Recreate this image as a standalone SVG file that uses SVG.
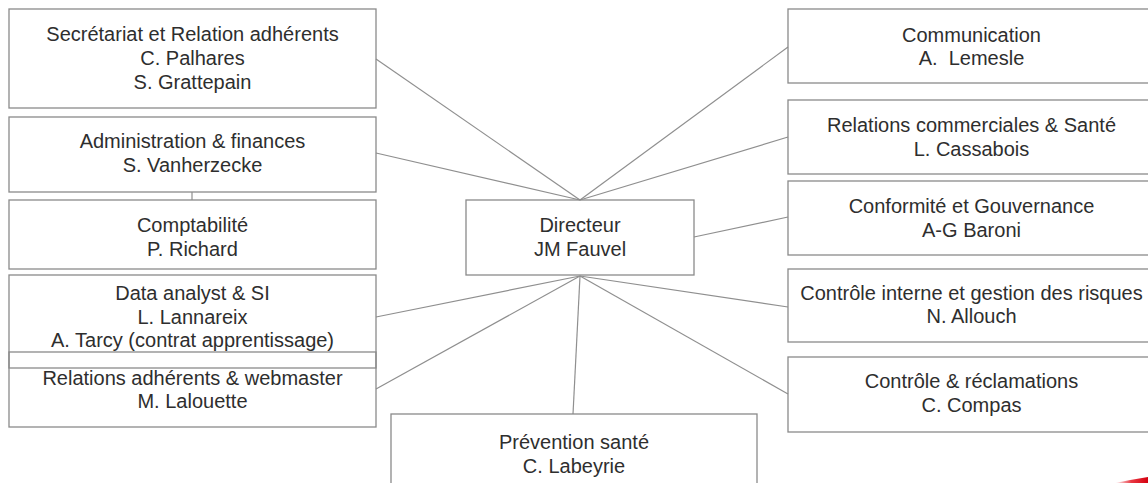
<svg xmlns="http://www.w3.org/2000/svg" width="1148" height="483" viewBox="0 0 1148 483">
  <style>
    .box { fill: none; stroke: #8a8a8a; stroke-width: 1.3; }
    .lbl { font-family: "Liberation Sans", Arial, sans-serif; font-size: 20px; fill: #2e2e2e; text-anchor: middle; }
    .link { stroke: #8f8f8f; stroke-width: 1.2; fill: none; }
  </style>
  <defs>
    <linearGradient id="swoosh" x1="0" y1="0" x2="1" y2="0">
      <stop offset="0" stop-color="#e30613" stop-opacity="0"/>
      <stop offset="0.5" stop-color="#e30613" stop-opacity="0.8"/>
      <stop offset="1" stop-color="#d4000f"/>
    </linearGradient>
  </defs>
  <rect width="1148" height="483" fill="#ffffff"/>

  <!-- connectors -->
  <g id="connectors">
    <line class="link" x1="580" y1="200" x2="376" y2="59"/>
    <line class="link" x1="580" y1="200" x2="376" y2="153"/>
    <line class="link" x1="580" y1="200" x2="788" y2="47"/>
    <line class="link" x1="580" y1="200" x2="788" y2="137"/>
    <line class="link" x1="694" y1="237" x2="788" y2="217"/>
    <line class="link" x1="192" y1="192" x2="192" y2="200"/>
    <line class="link" x1="580" y1="276" x2="376" y2="317"/>
    <line class="link" x1="580" y1="276" x2="376" y2="389"/>
    <line class="link" x1="580" y1="276" x2="573" y2="414"/>
    <line class="link" x1="580" y1="276" x2="788" y2="307"/>
    <line class="link" x1="580" y1="276" x2="788" y2="394"/>
  </g>

  <!-- left column -->
  <g id="secretariat">
    <rect class="box" x="9" y="9" width="367" height="99"/>
    <text class="lbl" x="192.5" y="41">Secrétariat et Relation adhérents</text>
    <text class="lbl" x="192.5" y="65">C. Palhares</text>
    <text class="lbl" x="192.5" y="89">S. Grattepain</text>
  </g>
  <g id="administration">
    <rect class="box" x="9" y="117" width="367" height="75"/>
    <text class="lbl" x="192.5" y="148">Administration &amp; finances</text>
    <text class="lbl" x="192.5" y="172">S. Vanherzecke</text>
  </g>
  <g id="comptabilite">
    <rect class="box" x="9" y="200" width="367" height="69"/>
    <text class="lbl" x="192.5" y="232">Comptabilité</text>
    <text class="lbl" x="192.5" y="256">P. Richard</text>
  </g>
  <g id="data-analyst">
    <rect class="box" x="9" y="275" width="367" height="93"/>
    <text class="lbl" x="192.5" y="300">Data analyst &amp; SI</text>
    <text class="lbl" x="192.5" y="324">L. Lannareix</text>
    <text class="lbl" x="192.5" y="347">A. Tarcy (contrat apprentissage)</text>
  </g>
  <g id="relations-adherents">
    <rect class="box" x="9" y="352" width="367" height="75"/>
    <text class="lbl" x="192.5" y="385">Relations adhérents &amp; webmaster</text>
    <text class="lbl" x="192.5" y="408">M. Lalouette</text>
  </g>

  <!-- centre -->
  <g id="directeur">
    <rect class="box" x="466" y="200" width="228" height="75"/>
    <text class="lbl" x="580" y="232">Directeur</text>
    <text class="lbl" x="580" y="256">JM Fauvel</text>
  </g>
  <g id="prevention">
    <rect class="box" x="391" y="414" width="366" height="90"/>
    <text class="lbl" x="574" y="449">Prévention santé</text>
    <text class="lbl" x="574" y="473">C. Labeyrie</text>
  </g>

  <!-- right column -->
  <g id="communication">
    <rect class="box" x="788" y="9" width="367" height="74"/>
    <text class="lbl" x="971.5" y="42">Communication</text>
    <text class="lbl" x="971.5" y="65" xml:space="preserve">A.  Lemesle</text>
  </g>
  <g id="relations-commerciales">
    <rect class="box" x="788" y="100" width="367" height="74"/>
    <text class="lbl" x="971.5" y="132">Relations commerciales &amp; Santé</text>
    <text class="lbl" x="971.5" y="156">L. Cassabois</text>
  </g>
  <g id="conformite">
    <rect class="box" x="788" y="181" width="367" height="74"/>
    <text class="lbl" x="971.5" y="213">Conformité et Gouvernance</text>
    <text class="lbl" x="971.5" y="237">A-G Baroni</text>
  </g>
  <g id="controle-interne">
    <rect class="box" x="788" y="269" width="367" height="73"/>
    <text class="lbl" x="971.5" y="300">Contrôle interne et gestion des risques</text>
    <text class="lbl" x="971.5" y="323">N. Allouch</text>
  </g>
  <g id="controle-reclamations">
    <rect class="box" x="788" y="357" width="367" height="75"/>
    <text class="lbl" x="971.5" y="388">Contrôle &amp; réclamations</text>
    <text class="lbl" x="971.5" y="412">C. Compas</text>
  </g>

  <!-- corner swoosh -->
  <path d="M1115,483 Q1132,479.5 1148,477 L1148,483 Z" fill="url(#swoosh)"/>
</svg>
